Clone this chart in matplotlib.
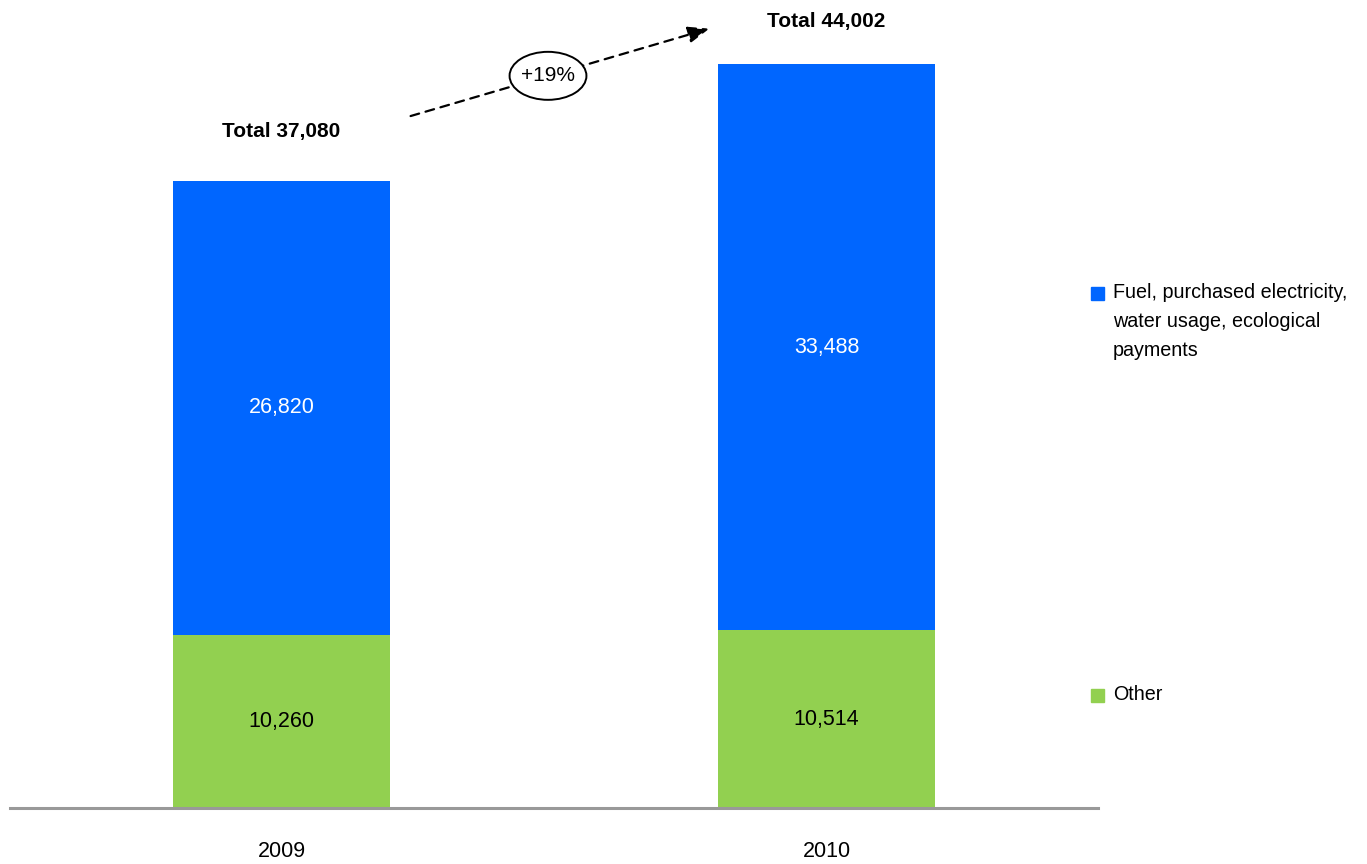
import matplotlib
matplotlib.use("Agg")
import matplotlib.pyplot as plt
from matplotlib.patches import Rectangle, Ellipse
import numpy as np

plt.rcParams['font.family'] = ['Liberation Sans', 'DejaVu Sans']

years = ['2009', '2010']
other = [10260, 10514]
fuel = [26820, 33488]
legend_labels = ['Fuel, purchased electricity,\nwater usage, ecological\npayments', 'Other']

blue = '#0066FF'
green = '#92D050'

totals = [a + b for a, b in zip(other, fuel)]
growth = totals[1] / totals[0] - 1

fig = plt.figure(figsize=(13.67, 8.64), dpi=100)
ax = fig.add_axes([10 / 1367, 56 / 864, 1088 / 1367, 808 / 864])

x = np.arange(len(years))
w = 0.398
ax.bar(x, other, w, color=green, zorder=2)
ax.bar(x, fuel, w, bottom=other, color=blue, zorder=2)

ax.set_xlim(-0.498, 1.498)
ax.set_ylim(0, 47800)

# segment labels
for i in range(len(years)):
    ax.text(x[i], other[i] / 2, f'{other[i]:,}', ha='center', va='center',
            fontsize=15.5, color='black')
    ax.text(x[i], other[i] + fuel[i] / 2, f'{fuel[i]:,}', ha='center', va='center',
            fontsize=15.5, color='white')

# totals above bars
offs = [40, 33]
for i in range(len(years)):
    ax.annotate(f'Total {totals[i]:,}', (x[i], totals[i]), xytext=(0, offs[i]),
                textcoords='offset pixels', ha='center', va='bottom',
                fontsize=15, fontweight='bold')

# growth arrow with ellipse
ax.annotate('', xy=(0.790, 46154), xytext=(0.232, 40888),
            arrowprops=dict(arrowstyle='-|>,head_length=1.3,head_width=0.5',
                            linestyle=(0, (4, 3)), lw=1.6, color='black'))
ax.add_patch(Ellipse((0.489, 43314), 0.141, 2840, fc='white', ec='black', lw=1.4, zorder=4))
ax.text(0.489, 43314, f'+{growth:.0%}', ha='center', va='center', fontsize=15, zorder=5)

ax.set_xticks(x)
ax.set_xticklabels(years, fontsize=15.5)
ax.tick_params(axis='x', length=0, pad=24)
ax.set_yticks([])
for s in ['top', 'right', 'left']:
    ax.spines[s].set_visible(False)
ax.spines['bottom'].set_color('#999999')
ax.spines['bottom'].set_linewidth(2.2)
ax.spines['bottom'].set_zorder(3)

# legend drawn by hand
W, H = 1367, 864
for lab, col, py in zip(legend_labels, [blue, green], [293, 695]):
    fig.patches.append(Rectangle((1091 / W, (H - py - 7) / H), 13 / W, 13 / H,
                                 transform=fig.transFigure, color=col))
    if '\n' in lab:
        fig.text(1113 / W, (H - py + 10) / H, lab, ha='left', va='top',
                 fontsize=14.2, linespacing=1.65)
    else:
        fig.text(1113 / W, (H - py) / H, lab, ha='left', va='center', fontsize=14.2)

fig.savefig('out.png', dpi=100)
